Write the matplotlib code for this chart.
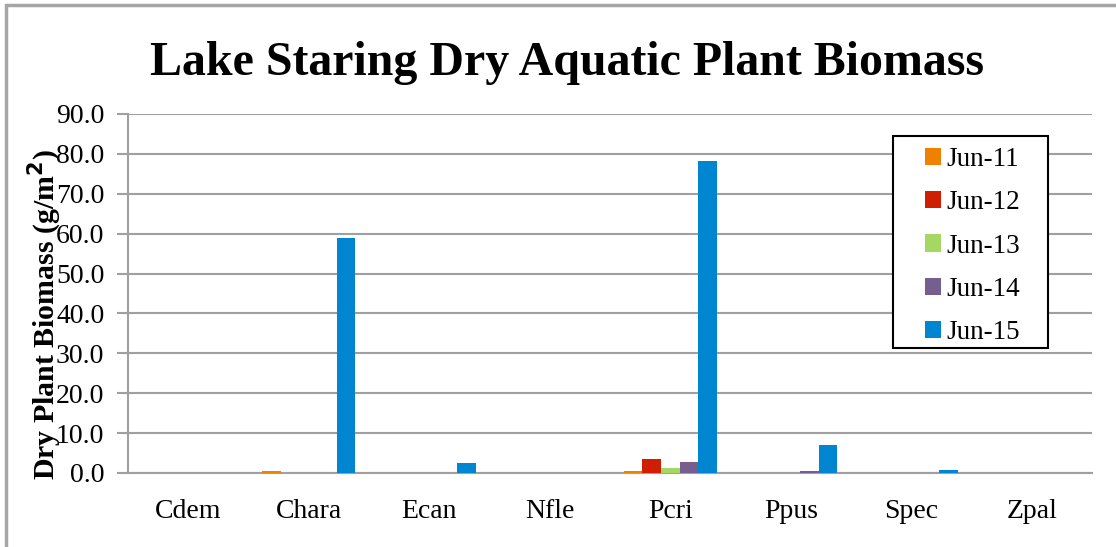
import numpy as np
import matplotlib.pyplot as plt
from matplotlib.patches import Rectangle

species = ["Cdem", "Chara", "Ecan", "Nfle", "Pcri", "Ppus", "Spec", "Zpal"]
years = ["Jun-11", "Jun-12", "Jun-13", "Jun-14", "Jun-15"]
jun11 = [0.0, 0.5, 0.0, 0.0, 0.5, 0.0, 0.0, 0.0]
jun12 = [0.0, 0.0, 0.0, 0.0, 3.5, 0.0, 0.0, 0.0]
jun13 = [0.0, 0.0, 0.0, 0.0, 1.2, 0.0, 0.0, 0.0]
jun14 = [0.0, 0.0, 0.0, 0.0, 2.8, 0.4, 0.0, 0.0]
jun15 = [0.0, 59.0, 2.6, 0.0, 78.3, 6.9, 0.8, 0.0]
series = [jun11, jun12, jun13, jun14, jun15]
colors = ["#EE8200", "#D01F00", "#A5D862", "#745F8E", "#0085D0"]

plt.rcParams['font.family'] = ['Liberation Serif', 'DejaVu Serif']

fig = plt.figure(figsize=(11.16, 5.47), dpi=100)
ax = fig.add_axes([128 / 1116, 74 / 547, 964 / 1116, 359 / 547])

# chart border like the excel chart area
fig.patches.append(Rectangle((6 / 1116, -0.1), 1.2, (547 - 5) / 547 + 0.1,
                             transform=fig.transFigure, fill=False,
                             edgecolor="#A6A6A6", linewidth=2.5))

x = np.arange(len(species))
w = 1 / 6.5
for i, (vals, c, lab) in enumerate(zip(series, colors, years)):
    ax.bar(x + (i - 2) * w, vals, width=w, color=c, label=lab, zorder=3)

ax.set_xlim(-0.5, 7.5)
ax.set_ylim(0, 90)
ax.set_yticks(np.arange(0, 91, 10))
ax.set_yticklabels([f"{v:.1f}" for v in np.arange(0, 91, 10)], fontsize=20)
ax.set_xticks(x)
ax.set_xticklabels(species, fontsize=20)
ax.tick_params(axis='x', length=0, pad=19)
ax.tick_params(axis='y', length=8, width=1.5, color="#A0A0A0", pad=9)
ax.yaxis.grid(True, color="#A0A0A0", linewidth=1.5, zorder=0)
for s in ["top", "right"]:
    ax.spines[s].set_visible(False)
for s in ["left", "bottom"]:
    ax.spines[s].set_color("#A0A0A0")
    ax.spines[s].set_linewidth(1.5)

fig.text(45 / 1116, 1 - 315 / 547, "Dry Plant Biomass (g/m$^\\mathbf{2}$)",
         rotation=90, ha="center", va="center", fontsize=21.5, fontweight="bold")
fig.text(567 / 1116, 1 - 63 / 547, "Lake Staring Dry Aquatic Plant Biomass",
         ha="center", va="center", fontsize=34.5, fontweight="bold")

# legend box drawn by hand so the padding matches
ax.add_patch(Rectangle((893 / 1116, 1 - 348 / 547), 155 / 1116, 212 / 547,
                       transform=fig.transFigure, facecolor="white",
                       edgecolor="black", linewidth=1.5, zorder=4,
                       clip_on=False))
leg = ax.legend(loc="upper left", bbox_to_anchor=(925 / 1116, 1 - 147 / 547),
                bbox_transform=fig.transFigure, fontsize=19.5, frameon=False,
                handlelength=0.6, handleheight=0.6, handletextpad=0.2,
                labelspacing=0.675, borderpad=0, borderaxespad=0)
leg.set_zorder(5)

fig.savefig("out.png", dpi=100)
